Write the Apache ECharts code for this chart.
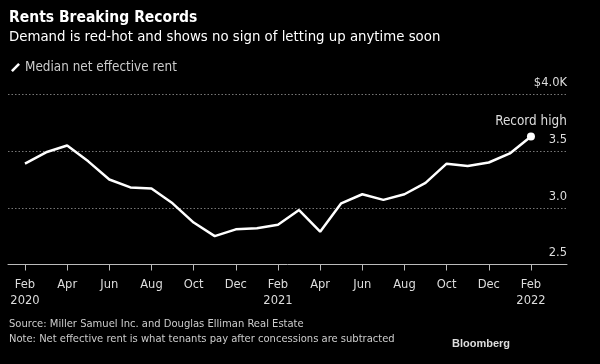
<!DOCTYPE html>
<html>
<head>
<meta charset="utf-8">
<script src="https://cdn.jsdelivr.net/npm/echarts@6/dist/echarts.min.js"></script>
<style>
html,body{margin:0;padding:0;background:#000;}
#c{width:600px;height:364px;}
</style>
</head>
<body>
<div id="c"></div>
<script>
const months = ['Feb 2020','Mar 2020','Apr 2020','May 2020','Jun 2020','Jul 2020','Aug 2020','Sep 2020','Oct 2020','Nov 2020','Dec 2020','Jan 2021',
  'Feb 2021','Mar 2021','Apr 2021','May 2021','Jun 2021','Jul 2021','Aug 2021','Sep 2021','Oct 2021','Nov 2021','Dec 2021','Jan 2022','Feb 2022'];
const rent = [3.39,3.49,3.55,3.41,3.25,3.18,3.17,3.04,2.87,2.75,2.81,2.82,2.85,2.98,2.79,3.04,3.12,3.07,3.12,3.22,3.39,3.37,3.40,3.48,3.63];
const tickLabels = ['Feb\n2020','Apr','Jun','Aug','Oct','Dec','Feb\n2021','Apr','Jun','Aug','Oct','Dec','Feb\n2022'];
const tickPositions = [0,2,4,6,8,10,12,14,16,18,20,22,24];
const yTickLabels = {2.5:'2.5',3:'3.0',3.5:'3.5',4:'$4.0K'};

const FONT = "'DejaVu Sans Condensed', 'DejaVu Sans', sans-serif";
const chart = echarts.init(document.getElementById('c'));
chart.setOption({
  backgroundColor: '#000',
  animation: false,
  textStyle: {fontFamily: FONT},
  title: [
    {text: 'Rents Breaking Records', left: 4, top: 5,
     textStyle: {color: '#fff', fontSize: 15.5, fontWeight: 'bold', fontFamily: FONT}},
    {text: 'Demand is red-hot and shows no sign of letting up anytime soon', left: 4, top: 25,
     textStyle: {color: '#fff', fontSize: 14.8, fontWeight: 'normal', fontFamily: FONT}},
    {text: 'Source: Miller Samuel Inc. and Douglas Elliman Real Estate\nNote: Net effective rent is what tenants pay after concessions are subtracted',
     left: 4, top: 312,
     textStyle: {color: '#ccc', fontSize: 11.1, fontWeight: 'normal', lineHeight: 14.5, fontFamily: FONT}},
    {text: 'Bloomberg', left: 447, top: 333,
     textStyle: {color: '#ddd', fontSize: 11, fontWeight: 'bold', fontFamily: "'Liberation Sans', Arial, sans-serif"}}
  ],
  legend: {
    left: 6, top: 56,
    itemWidth: 9, itemHeight: 10, itemGap: 8,
    icon: 'path://M8,0 L10,2 L2,10 L0,8 Z',
    textStyle: {color: '#ccc', fontSize: 13.4, fontFamily: FONT},
    data: ['Median net effective rent']
  },
  grid: {left: 8, right: 33, top: 94.5, bottom: 99.5, containLabel: false},
  xAxis: {
    type: 'value', min: -0.806, max: 25.71,
    axisLine: {show: true, lineStyle: {color: '#bbb', width: 1}},
    axisTick: {show: true, customValues: tickPositions, length: 6, lineStyle: {color: '#bbb'}},
    axisLabel: {customValues: tickPositions, color: '#ddd', fontSize: 12.8, margin: 12, lineHeight: 16,
      formatter: v => tickLabels[tickPositions.indexOf(Math.round(v))] || ''},
    splitLine: {show: false}
  },
  yAxis: {
    type: 'value', position: 'right', min: 2.5, max: 4.0, interval: 0.5,
    axisLine: {show: false}, axisTick: {show: false},
    axisLabel: {inside: true, color: '#ddd', fontSize: 12.8, margin: 0, align: 'right', verticalAlign: 'bottom',
      padding: [0,0,5,0],
      formatter: v => yTickLabels[Math.round(v*10)/10] || ''},
    splitLine: {show: true, lineStyle: {color: '#777', type: [1.5, 2], width: 1}}
  },
  series: [{
    name: 'Median net effective rent',
    type: 'line',
    color: '#fff',
    symbol: 'none',
    lineStyle: {color: '#fff', width: 2.5},
    data: rent.map((v, i) => {
      if (i === rent.length - 1) {
        return {value: [i, v], symbol: 'circle', symbolSize: 8,
          itemStyle: {color: '#fff'},
          label: {show: true, position: 'top', distance: 4, formatter: 'Record high', color: '#ddd', fontSize: 13.4, fontFamily: FONT}};
      }
      return [i, v];
    })
  }]
});
</script>
</body>
</html>
